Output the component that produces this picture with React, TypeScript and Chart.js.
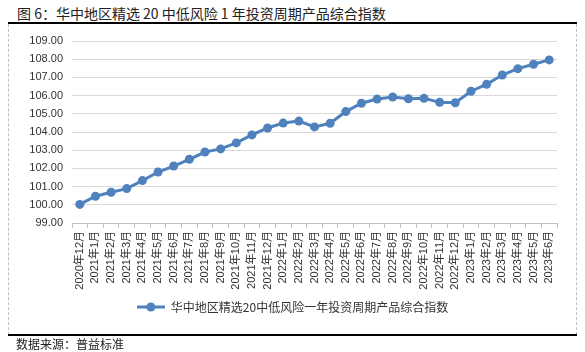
import React, { useEffect, useRef } from "react";
import { Chart, registerables } from "chart.js";

Chart.register(...registerables);

const titleText = "图 6：华中地区精选 20 中低风险 1 年投资周期产品综合指数";
const sourceText = "数据来源：普益标准";
const seriesName = "华中地区精选20中低风险一年投资周期产品综合指数";

const categories = [
  "2020年12月",
  "2021年1月", "2021年2月", "2021年3月", "2021年4月", "2021年5月", "2021年6月",
  "2021年7月", "2021年8月", "2021年9月", "2021年10月", "2021年11月", "2021年12月",
  "2022年1月", "2022年2月", "2022年3月", "2022年4月", "2022年5月", "2022年6月",
  "2022年7月", "2022年8月", "2022年9月", "2022年10月", "2022年11月", "2022年12月",
  "2023年1月", "2023年2月", "2023年3月", "2023年4月", "2023年5月", "2023年6月",
];

const indexValues = [
  100.02,
  100.47, 100.69, 100.89, 101.33, 101.80, 102.13,
  102.50, 102.90, 103.07, 103.40, 103.84, 104.22,
  104.49, 104.60, 104.28, 104.48, 105.12, 105.58,
  105.81, 105.92, 105.83, 105.85, 105.63, 105.61,
  106.24, 106.62, 107.13, 107.48, 107.72, 107.96,
];

const yMin = 99;
const yMax = 109;
const yStep = 1;

const lineColor = "#4f81bd";
const textColor = "#333333";
const tickFont = "'Liberation Sans', 'Noto Sans CJK SC', sans-serif";
const cjkFont = "'Noto Sans CJK SC', sans-serif";

function makeLegendIcon(): HTMLCanvasElement {
  const c = document.createElement("canvas");
  c.width = 28;
  c.height = 10;
  const ctx = c.getContext("2d")!;
  ctx.strokeStyle = lineColor;
  ctx.lineWidth = 3;
  ctx.beginPath();
  ctx.moveTo(0, 5);
  ctx.lineTo(28, 5);
  ctx.stroke();
  ctx.fillStyle = lineColor;
  ctx.beginPath();
  ctx.arc(14, 5, 4.5, 0, Math.PI * 2);
  ctx.fill();
  return c;
}

const legendShift = {
  id: "legendShift",
  afterLayout(chart: any) {
    const lg = chart.legend;
    if (!lg) return;
    lg.left += 10;
    lg.right += 10;
    lg.top -= 2;
    lg.bottom -= 2;
  },
};

export default function App() {
  const canvasRef = useRef<HTMLCanvasElement | null>(null);

  useEffect(() => {
    if (!canvasRef.current) return;
    const icon = makeLegendIcon();
    const chart = new Chart(canvasRef.current, {
      type: "line",
      data: {
        labels: categories,
        datasets: [
          {
            label: seriesName,
            data: indexValues,
            borderColor: lineColor,
            backgroundColor: lineColor,
            borderWidth: 3,
            pointRadius: 4.5,
            pointStyle: "circle",
            pointBackgroundColor: lineColor,
            pointBorderColor: lineColor,
            pointBorderWidth: 0,
            tension: 0,
          },
        ],
      },
      plugins: [legendShift],
      options: {
        responsive: false,
        animation: false,
        layout: { padding: { left: 0, right: 19, top: 17, bottom: 10 } },
        plugins: {
          title: { display: false },
          tooltip: { enabled: false },
          legend: {
            position: "bottom",
            labels: {
              usePointStyle: true,
              pointStyleWidth: 28,
              color: textColor,
              font: { family: cjkFont, size: 12 },
              padding: 10,
              generateLabels: () => [
                {
                  text: seriesName,
                  fillStyle: lineColor,
                  strokeStyle: lineColor,
                  lineWidth: 0,
                  pointStyle: icon as any,
                  hidden: false,
                  datasetIndex: 0,
                  fontColor: textColor,
                } as any,
              ],
            },
          },
        },
        scales: {
          x: {
            type: "category",
            offset: true,
            afterFit: (scale: any) => {
              scale.height = 70;
            },
            grid: {
              display: true,
              drawOnChartArea: false,
              drawTicks: true,
              tickLength: 5,
              offset: true,
              color: "#bfbfbf",
            },
            border: { display: true, color: "#bfbfbf", width: 1 },
            ticks: {
              autoSkip: false,
              minRotation: 90,
              maxRotation: 90,
              padding: 3,
              color: textColor,
              font: { family: tickFont, size: 11 },
            },
          },
          y: {
            min: yMin,
            max: yMax,
            afterFit: (scale: any) => {
              scale.width = 64;
            },
            grid: {
              color: "#d9d9d9",
              drawTicks: false,
              lineWidth: 1,
            },
            border: { display: false },
            ticks: {
              stepSize: yStep,
              padding: 9,
              color: textColor,
              font: { family: tickFont, size: 11 },
              callback: (v: any) => Number(v).toFixed(2),
            },
          },
        },
      },
    });
    return () => chart.destroy();
  }, []);

  return (
    <div
      style={{
        position: "fixed",
        left: 0,
        top: 0,
        width: 585,
        height: 352,
        background: "#ffffff",
        overflow: "hidden",
      }}
    >
      <div
        style={{
          position: "absolute",
          left: 17,
          top: 4,
          fontFamily: cjkFont,
          fontSize: 14,
          lineHeight: "18px",
          color: "#222",
          whiteSpace: "nowrap",
        }}
      >
        {titleText}
      </div>
      <div style={{ position: "absolute", left: 8, top: 22, width: 569, height: 2, background: "#000" }} />
      <div
        style={{
          position: "absolute",
          left: 8,
          top: 24,
          width: 567,
          height: 311,
          borderLeft: "1px dashed #bfbfbf",
          borderRight: "1px dashed #bfbfbf",
        }}
      />
      <canvas
        ref={canvasRef}
        width={568}
        height={311}
        style={{ position: "absolute", left: 8, top: 24, width: 568, height: 311 }}
      />
      <div style={{ position: "absolute", left: 8, top: 334, width: 569, height: 2, background: "#000" }} />
      <div
        style={{
          position: "absolute",
          left: 16,
          top: 336,
          fontFamily: cjkFont,
          fontSize: 12,
          lineHeight: "15px",
          color: "#222",
          whiteSpace: "nowrap",
        }}
      >
        {sourceText}
      </div>
    </div>
  );
}
